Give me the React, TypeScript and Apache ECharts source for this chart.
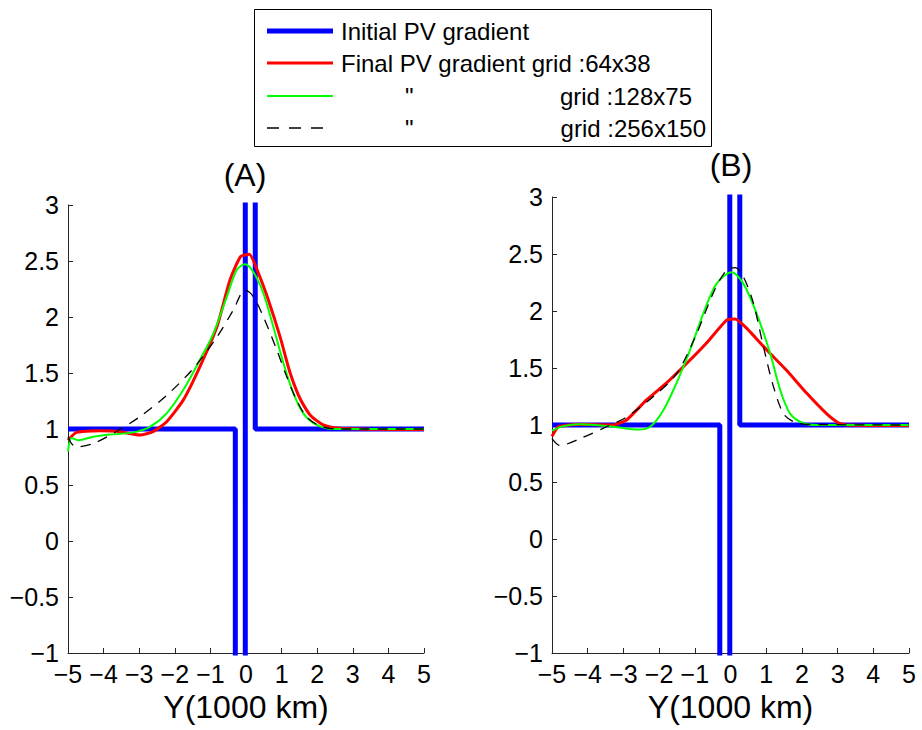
import React, { useEffect, useRef } from "react";
import * as echarts from "echarts";

// Initial PV gradient (same in both panels)
const initialPV: number[][] = [
  [-5, 1], [-0.3, 1], [-0.3, -5], [-0.02, -5], [-0.02, 10], [0.26, 10], [0.26, 1], [5, 1],
];

// Panel (A)
const redA: number[][] = [
  [-5, 0.9], [-4.76, 0.97], [-4.1, 0.985], [-3.63, 0.98], [-2.98, 0.946], [-2.61, 0.976],
  [-2.23, 1.065], [-1.76, 1.26], [-1.29, 1.56], [-0.82, 1.91], [-0.45, 2.33], [-0.15, 2.54],
  [0.09, 2.56], [0.35, 2.39], [0.63, 2.15], [0.96, 1.82], [1.24, 1.5], [1.52, 1.27],
  [1.8, 1.125], [2.17, 1.036], [2.64, 1.006], [3.5, 0.998], [5, 0.995],
];
const greenA: number[][] = [
  [-5, 0.8], [-4.9, 0.92], [-4.71, 0.9], [-4.29, 0.93], [-3.82, 0.95], [-3.17, 0.97],
  [-2.7, 1.02], [-2.23, 1.14], [-1.76, 1.35], [-1.29, 1.62], [-0.92, 1.85], [-0.54, 2.18],
  [-0.26, 2.42], [-0.03, 2.47], [0.21, 2.4], [0.49, 2.21], [0.77, 1.91], [1.05, 1.59],
  [1.33, 1.32], [1.61, 1.14], [1.99, 1.036], [2.45, 1.0], [5, 1.0],
];
const blackA: number[][] = [
  [-5, 0.93], [-4.9, 0.87], [-4.76, 0.84], [-4.29, 0.87], [-3.63, 0.98], [-2.98, 1.11],
  [-2.23, 1.3], [-1.48, 1.54], [-0.82, 1.82], [-0.36, 2.06], [-0.03, 2.24], [0.21, 2.18],
  [0.49, 2.0], [0.86, 1.71], [1.14, 1.47], [1.42, 1.26], [1.7, 1.11], [2.08, 1.027],
  [2.55, 1.0], [5, 1.0],
];

// Panel (B)
const redB: number[][] = [
  [-5, 0.9], [-4.82, 0.985], [-4.22, 1.006], [-3.28, 1.0], [-2.91, 1.044], [-2.35, 1.22],
  [-1.79, 1.37], [-1.23, 1.54], [-0.67, 1.72], [-0.11, 1.92], [0.13, 1.93], [0.45, 1.85],
  [1.01, 1.66], [1.57, 1.48], [2.13, 1.28], [2.69, 1.1], [3.02, 1.02], [3.26, 1.0], [5, 0.995],
];
const greenB: number[][] = [
  [-5, 0.95], [-4.68, 0.99], [-4.22, 1.006], [-3.28, 0.985], [-2.58, 0.96], [-2.25, 0.985],
  [-1.88, 1.13], [-1.51, 1.37], [-1.13, 1.66], [-0.76, 1.98], [-0.39, 2.24], [0.03, 2.34],
  [0.36, 2.24], [0.73, 1.98], [1.11, 1.63], [1.39, 1.31], [1.67, 1.1], [2.04, 1.015],
  [2.41, 1.0], [5, 1.0],
];
const blackB: number[][] = [
  [-5, 0.88], [-4.78, 0.82], [-4.22, 0.88], [-3.47, 0.985], [-2.91, 1.07], [-2.16, 1.25],
  [-1.51, 1.45], [-0.95, 1.8], [-0.48, 2.16], [-0.11, 2.36], [0.13, 2.38], [0.36, 2.3],
  [0.64, 2.07], [0.92, 1.69], [1.2, 1.34], [1.48, 1.1], [1.76, 1.03], [2.13, 1.006], [5, 1.0],
];

const panelTitles = ["(A)", "(B)"];
const xAxisName = "Y(1000 km)";
const legendLabels = [
  "Initial PV gradient",
  "Final PV gradient grid :64x38",
  "grid :128x75",
  "grid :256x150",
];

const FONT = '"Liberation Sans", Arial, Helvetica, sans-serif';
const fmt = (v: number) => String(v).replace("-", "\u2212");

export default function App() {
  const ref = useRef<HTMLDivElement>(null);
  useEffect(() => {
    if (!ref.current) return;
    const chart = echarts.init(ref.current, undefined, { renderer: "svg" });
    const grids = [
      { left: 68, top: 205, width: 356, height: 448 },
      { left: 552, top: 197, width: 357, height: 456 },
    ];
    const axisLine = { show: true, onZero: false, lineStyle: { color: "#262626", width: 1 } };
    const axisTick = { show: true, inside: true, length: 5, lineStyle: { color: "#262626" } };
    const xAxes = grids.map((_, i) => ({
      type: "value",
      gridIndex: i,
      min: -5,
      max: 5,
      interval: 1,
      axisLine,
      axisTick,
      splitLine: { show: false },
      axisLabel: { fontSize: 25, fontFamily: FONT, color: "#000", margin: 8, formatter: fmt },
      name: xAxisName,
      nameLocation: "middle",
      nameGap: 38,
      nameTextStyle: { fontSize: 32, fontFamily: FONT, color: "#000" },
    }));
    const yAxes = grids.map((_, i) => ({
      type: "value",
      gridIndex: i,
      min: -1,
      max: 3,
      interval: 0.5,
      axisLine,
      axisTick,
      splitLine: { show: false },
      axisLabel: { fontSize: 25, fontFamily: FONT, color: "#000", margin: 9, formatter: fmt },
    }));
    const mk = (data: number[][], idx: number, color: string, width: number, smooth: number, dash?: any) => ({
      type: "line",
      xAxisIndex: idx,
      yAxisIndex: idx,
      data,
      showSymbol: false,
      symbol: "none",
      smooth,
      clip: true,
      lineStyle: { color, width, type: dash || "solid" },
    });
    const series = [
      mk(initialPV, 0, "#0000ff", 5, 0),
      mk(redA, 0, "#ff0000", 3, 0.2),
      mk(greenA, 0, "#00ff00", 2, 0.3),
      mk(blackA, 0, "#000000", 1.3, 0.3, [10, 8]),
      mk(initialPV, 1, "#0000ff", 5, 0),
      mk(redB, 1, "#ff0000", 3, 0.15),
      mk(greenB, 1, "#00ff00", 2, 0.3),
      mk(blackB, 1, "#000000", 1.3, 0.3, [10, 8]),
    ];
    const txt = (text: string, x: number, y: number, size: number, align = "left") => ({
      type: "text",
      x,
      y,
      style: {
        text,
        font: `${size}px ${FONT}`,
        fill: "#000",
        textAlign: align,
        align,
        textVerticalAlign: "middle",
        verticalAlign: "middle",
      },
    });
    const rowY = [31, 63, 96, 128];
    const graphic: any[] = [
      {
        type: "rect",
        shape: { x: 254.5, y: 9.5, width: 457, height: 137 },
        style: { fill: "#fff", stroke: "#000", lineWidth: 1 },
      },
      { type: "line", shape: { x1: 267, y1: rowY[0], x2: 333, y2: rowY[0] }, style: { stroke: "#0000ff", lineWidth: 5 } },
      { type: "line", shape: { x1: 267, y1: rowY[1], x2: 333, y2: rowY[1] }, style: { stroke: "#ff0000", lineWidth: 3 } },
      { type: "line", shape: { x1: 267, y1: rowY[2], x2: 333, y2: rowY[2] }, style: { stroke: "#00ff00", lineWidth: 2 } },
      { type: "line", shape: { x1: 267, y1: rowY[3], x2: 333, y2: rowY[3] }, style: { stroke: "#000", lineWidth: 1.3, lineDash: [12, 10] } },
      txt(legendLabels[0], 341, rowY[0], 24),
      txt(legendLabels[1], 341, rowY[1], 24),
      txt('"', 405, rowY[2], 24),
      txt(legendLabels[2], 692, rowY[2], 24, "right"),
      txt('"', 405, rowY[3], 24),
      txt(legendLabels[3], 706, rowY[3], 24, "right"),
      txt(panelTitles[0], 245, 175, 32, "center"),
      txt(panelTitles[1], 731, 165, 32, "center"),
    ];
    chart.setOption({
      animation: false,
      backgroundColor: "#fff",
      grid: grids,
      xAxis: xAxes,
      yAxis: yAxes,
      series,
      graphic,
    });
    return () => chart.dispose();
  }, []);
  return (
    <div
      ref={ref}
      style={{ position: "fixed", left: 0, top: 0, width: 922, height: 730 }}
    />
  );
}
